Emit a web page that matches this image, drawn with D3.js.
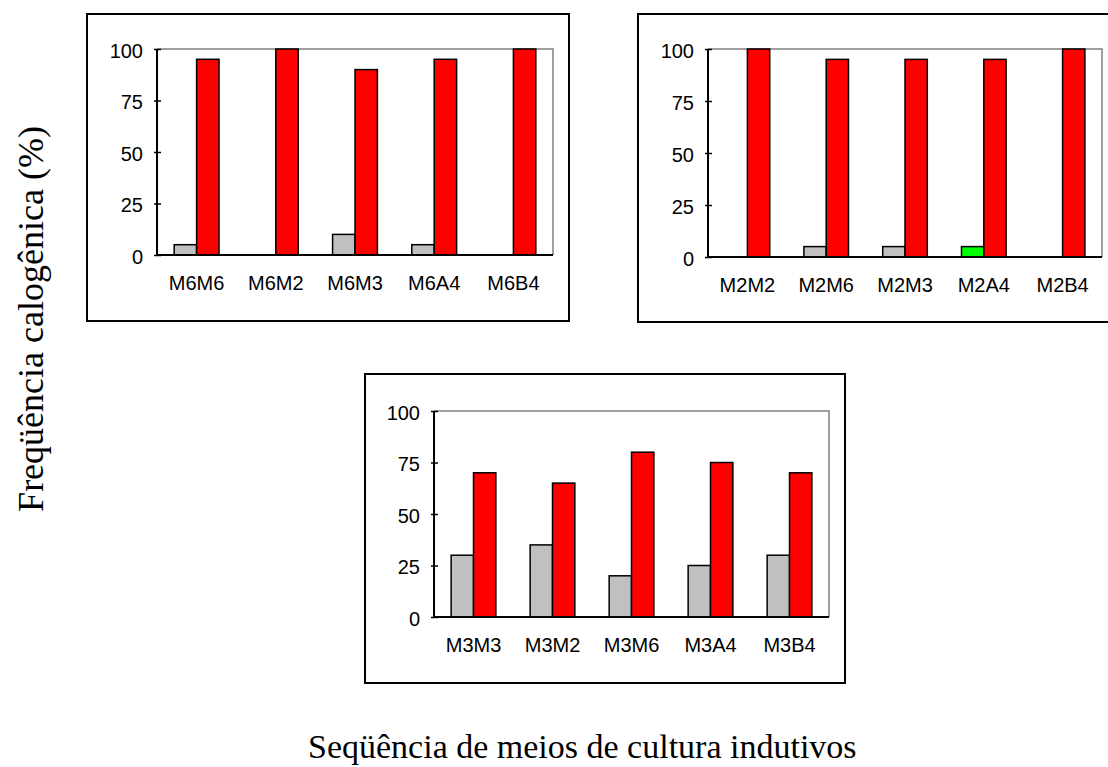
<!DOCTYPE html>
<html>
<head>
<meta charset="utf-8">
<script src="https://cdn.jsdelivr.net/npm/d3@7"></script>
<style>
  body { margin: 0; background: #fff; }
  svg { display: block; }
</style>
</head>
<body>
<svg id="chart"></svg>
<script>
const W = 1108, H = 767;
const svg = d3.select("#chart").attr("width", W).attr("height", H);

// data
const catsA = ["M6M6", "M6M2", "M6M3", "M6A4", "M6B4"];
const greyA = [5, 0, 10, 5, 0];
const redA = [95, 100, 90, 95, 100];

const catsB = ["M2M2", "M2M6", "M2M3", "M2A4", "M2B4"];
const greyB = [0, 5, 5, 5, 0];
const redB = [100, 95, 95, 95, 100];

const catsC = ["M3M3", "M3M2", "M3M6", "M3A4", "M3B4"];
const greyC = [30, 35, 20, 25, 30];
const redC = [70, 65, 80, 75, 70];

const yTicks = [0, 25, 50, 75, 100];

// panel frames and plot areas
const panels = [
  { cats: catsA, grey: greyA, red: redA, greyColors: null,
    box: [87, 14, 482, 307], plot: [157, 49, 553, 255] },
  { cats: catsB, grey: greyB, red: redB, greyColors: { 3: "#00ff00" },
    box: [638, 14, 480, 308], plot: [708, 49, 1102, 257] },
  { cats: catsC, grey: greyC, red: redC, greyColors: null,
    box: [365, 374, 480, 309], plot: [434, 411, 829, 617] }
];

const labelFont = "Liberation Sans, Arial, sans-serif";
const titleFont = "Liberation Serif, Times New Roman, serif";

panels.forEach(p => {
  const g = svg.append("g");
  const [bx, by, bw, bh] = p.box;
  g.append("rect")
    .attr("x", bx).attr("y", by).attr("width", bw).attr("height", bh)
    .attr("fill", "#fff").attr("stroke", "#000").attr("stroke-width", 2);

  const [x0, y0, x1, y1] = p.plot;
  const x = d3.scaleBand().domain(p.cats).range([x0, x1])
    .paddingInner(0.434).paddingOuter(0.217);
  const xs = d3.scaleBand().domain(["grey", "red"]).range([0, x.bandwidth()]);
  const y = d3.scaleLinear().domain([0, 100]).range([y1, y0]);

  // plot area outline (top/right grey)
  g.append("path")
    .attr("d", `M${x0},${y0}H${x1}V${y1}`)
    .attr("fill", "none").attr("stroke", "#808080").attr("stroke-width", 1.5);

  const rows = p.cats.map((c, i) => ({ c, i, grey: p.grey[i], red: p.red[i] }));

  g.selectAll(".bg").data(rows).join("rect")
    .attr("x", d => x(d.c) + xs("grey"))
    .attr("y", d => y(d.grey))
    .attr("width", xs.bandwidth())
    .attr("height", d => y(0) - y(d.grey))
    .attr("fill", d => (p.greyColors && p.greyColors[d.i]) || "#c0c0c0")
    .attr("stroke", "#000").attr("stroke-width", 1.5)
    .attr("display", d => d.grey > 0 ? null : "none");

  g.selectAll(".br").data(rows).join("rect")
    .attr("x", d => x(d.c) + xs("red"))
    .attr("y", d => y(d.red))
    .attr("width", xs.bandwidth())
    .attr("height", d => y(0) - y(d.red))
    .attr("fill", "#ff0000")
    .attr("stroke", "#000").attr("stroke-width", 1.5);

  // y axis
  const yAxis = g.append("g").attr("transform", `translate(${x0},0)`)
    .call(d3.axisLeft(y).tickValues(yTicks).tickSize(0).tickPadding(14));
  yAxis.select(".domain").attr("stroke", "#000").attr("stroke-width", 2)
    .attr("d", `M0,${y0}V${y1}`);
  yAxis.selectAll(".tick line").attr("x1", -3).attr("x2", 4)
    .attr("stroke", "#000").attr("stroke-width", 1.5);
  yAxis.selectAll(".tick text")
    .attr("font-family", labelFont).attr("font-size", 20).attr("fill", "#000")
    .attr("dy", "0.4em");

  // x axis
  const xAxis = g.append("g").attr("transform", `translate(0,${y1})`)
    .call(d3.axisBottom(x).tickSize(0).tickPadding(20));
  xAxis.select(".domain").attr("stroke", "#000").attr("stroke-width", 2)
    .attr("d", `M${x0},0H${x1}`);
  xAxis.selectAll(".tick text")
    .attr("font-family", labelFont).attr("font-size", 20).attr("fill", "#000")
    .attr("dy", "0.75em");
});

// axis titles
svg.append("text")
  .attr("transform", "translate(43,319) rotate(-90)")
  .attr("text-anchor", "middle")
  .attr("font-family", titleFont).attr("font-size", 36)
  .text("Freqüência calogênica (%)");

svg.append("text")
  .attr("x", 308).attr("y", 758)
  .attr("text-anchor", "start")
  .attr("font-family", titleFont).attr("font-size", 34)
  .text("Seqüência de meios de cultura indutivos");
</script>
</body>
</html>
